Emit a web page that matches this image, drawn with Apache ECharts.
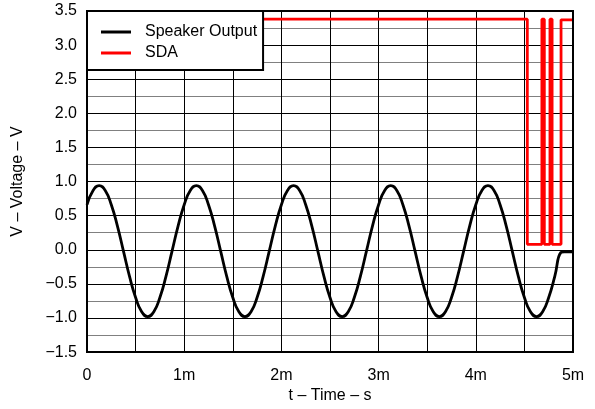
<!DOCTYPE html>
<html>
<head>
<meta charset="utf-8">
<script src="https://cdn.jsdelivr.net/npm/echarts@6/dist/echarts.min.js"></script>
<style>html,body{margin:0;padding:0;background:#fff}#c{width:595px;height:409px}</style>
</head>
<body>
<div id="c"></div>
<script>
// Speaker output (time in ms, voltage in V)
var speakerT = [
0,0.0625,0.125,0.1875,0.25,0.3125,0.375,0.4375,0.5,0.5625,0.625,0.6875,0.75,0.8125,0.875,0.9375,
1,1.0625,1.125,1.1875,1.25,1.3125,1.375,1.4375,1.5,1.5625,1.625,1.6875,1.75,1.8125,1.875,1.9375,
2,2.0625,2.125,2.1875,2.25,2.3125,2.375,2.4375,2.5,2.5625,2.625,2.6875,2.75,2.8125,2.875,2.9375,
3,3.0625,3.125,3.1875,3.25,3.3125,3.375,3.4375,3.5,3.5625,3.625,3.6875,3.75,3.8125,3.875,3.9375,
4,4.0625,4.125,4.1875,4.25,4.3125,4.375,4.4375,4.5,4.5625,4.625,4.6875,4.75,4.8125,4.875,4.91,4.95,5.0];
var speakerV = [
0.66,0.87,0.94,0.87,0.66,0.35,-0.02,-0.39,-0.70,-0.91,-0.98,-0.91,-0.70,-0.39,-0.02,0.35,
0.66,0.87,0.94,0.87,0.66,0.35,-0.02,-0.39,-0.70,-0.91,-0.98,-0.91,-0.70,-0.39,-0.02,0.35,
0.66,0.87,0.94,0.87,0.66,0.35,-0.02,-0.39,-0.70,-0.91,-0.98,-0.91,-0.70,-0.39,-0.02,0.35,
0.66,0.87,0.94,0.87,0.66,0.35,-0.02,-0.39,-0.70,-0.91,-0.98,-0.91,-0.70,-0.39,-0.02,0.35,
0.66,0.87,0.94,0.87,0.66,0.35,-0.02,-0.39,-0.70,-0.91,-0.98,-0.91,-0.70,-0.39,-0.04,-0.03,-0.03,-0.03];
// SDA signal
var sdaT = [0,4.53,4.53,4.68,4.68,4.705,4.705,4.763,4.763,4.785,4.785,4.877,4.877,5.0];
var sdaV = [3.38,3.38,0.08,0.08,3.38,3.38,0.08,0.08,3.38,3.38,0.08,0.08,3.37,3.37];
var xTicks = ['0','1m','2m','3m','4m','5m'];
var seriesNames = ['Speaker Output','SDA'];

function pairs(t, v){ return t.map(function(x,i){ return [x, v[i]]; }); }
var font = 'Arial, "Liberation Sans", sans-serif';
var fs = 16;
var chart = echarts.init(document.getElementById('c'), null, {renderer:'canvas'});
chart.setOption({
  animation:false,
  backgroundColor:'#fff',
  grid:{left:87,right:22,top:11,bottom:54,show:true,borderColor:'#000',borderWidth:2,backgroundColor:'transparent',z:5},
  legend:{
    data:seriesNames, orient:'vertical', left:87, top:11,
    backgroundColor:'#fff', borderColor:'#000', borderWidth:2,
    padding:[13,6,9,14], itemGap:5, icon:'rect', itemWidth:30, itemHeight:3,
    textStyle:{fontFamily:font,fontSize:fs,color:'#000',padding:[0,0,0,9]}, z:10
  },
  xAxis:{
    type:'value', min:0, max:5, interval:0.5,
    axisLine:{show:false}, axisTick:{show:false},
    axisLabel:{fontFamily:font,fontSize:fs,color:'#000',margin:15,
      formatter:function(v){ return (Math.abs(v-Math.round(v))<1e-6) ? xTicks[Math.round(v)] : ''; }},
    splitLine:{show:true,lineStyle:{color:'#000',width:1}},
    name:'t – Time – s', nameLocation:'middle', nameGap:35,
    nameTextStyle:{fontFamily:font,fontSize:fs,color:'#000'}
  },
  yAxis:{
    type:'value', min:-1.5, max:3.5, interval:0.5,
    axisLine:{show:false}, axisTick:{show:false},
    axisLabel:{fontFamily:font,fontSize:fs,color:'#000',margin:10,
      formatter:function(v){ return v.toFixed(1).replace('-', '\u2212'); }},
    splitLine:{show:true,lineStyle:{color:'#000',width:1}},
    minorTick:{show:false,splitNumber:2},
    minorSplitLine:{show:true,lineStyle:{color:'#808080',width:1}},
    name:'V – Voltage – V', nameLocation:'middle', nameGap:61, nameRotate:90,
    nameTextStyle:{fontFamily:font,fontSize:fs,color:'#000'}
  },
  series:[
    {name:seriesNames[0], type:'line', data:pairs(speakerT,speakerV), smooth:0.5,
     showSymbol:false, symbol:'none', lineStyle:{color:'#000',width:2.8}, itemStyle:{color:'#000'}, z:3},
    {name:seriesNames[1], type:'line', data:pairs(sdaT,sdaV),
     showSymbol:false, symbol:'none', lineStyle:{color:'#ff0000',width:2.8}, itemStyle:{color:'#ff0000'}, z:4}
  ]
});
</script>
</body>
</html>
